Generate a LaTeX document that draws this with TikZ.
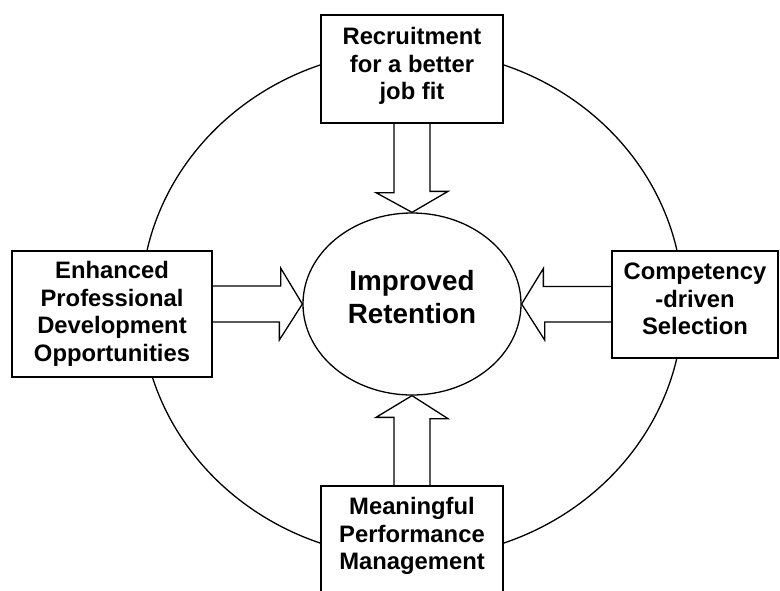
\documentclass[tikz,border=0pt]{standalone}
\usepackage{fontspec}
\setmainfont{Liberation Sans}
\usetikzlibrary{calc,shapes.geometric}

\begin{document}
\begin{tikzpicture}[
  x=1pt,y=-1pt,
  line width=1.3pt,
  box/.style={draw,fill=white,align=center,inner sep=0pt,font=\fontsize{23.8}{27.5}\selectfont\bfseries},
  hub/.style={draw,fill=white,ellipse,align=center,inner sep=0pt,minimum width=218pt,minimum height=182pt,font=\fontsize{27.8}{33}\selectfont\bfseries},
  barrow/.style={draw,line join=miter}]
\useasboundingbox (0,0) rectangle (780,590);
% outer ring behind the four boxes
\draw (412,304) ellipse [x radius=271, y radius=254];

\node[box,minimum width=182pt,minimum height=108pt,text depth=10.4pt] (rec) at (412,69) {Recruitment\\for a better\\job fit};
\node[box,minimum width=200pt,minimum height=126pt] (enh) at (112,314) {Enhanced\\Professional\\Development\\Opportunities};
\node[box,minimum width=166pt,minimum height=107pt,text depth=11.4pt] (com) at (695,304.5) {Competency\\-driven\\Selection};
\node[box,minimum width=182pt,minimum height=108pt,text depth=12.4pt] (mea) at (412,540) {Meaningful\\Performance\\Management};
\node[hub,text depth=15pt] (ret) at (412,304) {Improved\\Retention};

% block arrows into the hub
\draw[barrow] ($(rec.south)+(-18,0)$) -- ++(0,69) -- ++(-18,0) -- (ret.north) -- ++(36,-21) -- ++(-18,0) -- ++(0,-69);
\draw[barrow] ($(mea.north)+(-18,0)$) -- ++(0,-68) -- ++(-18,0) -- (ret.south) -- ++(36,23) -- ++(-18,0) -- ++(0,68);
\draw[barrow] ($(enh.east|-ret.west)+(0,-18)$) -- ++(68,0) -- ++(0,-18) -- (ret.west) -- ++(-23,36) -- ++(0,-18) -- ++(-68,0);
\draw[barrow] ($(com.west)+(0,-18)$) -- ++(-68,0) -- ++(0,-18) -- (ret.east) -- ++(23,36) -- ++(0,-18) -- ++(68,0);
\end{tikzpicture}
\end{document}
